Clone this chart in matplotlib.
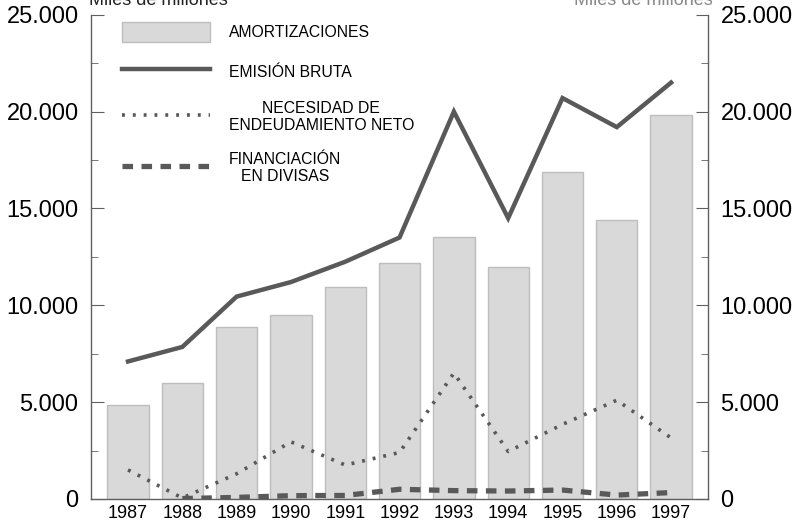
import numpy as np
import matplotlib.pyplot as plt
from matplotlib.patches import Patch
from matplotlib.lines import Line2D

plt.rcParams['font.family'] = ['Liberation Sans', 'DejaVu Sans']

# ============================================================
# Datos (miles de millones)
# ============================================================
years = ["1987", "1988", "1989", "1990", "1991", "1992",
         "1993", "1994", "1995", "1996", "1997"]
amortizaciones = [4850, 6000, 8900, 9500, 10950, 12200,
                  13550, 12000, 16900, 14400, 19800]
emision_bruta = [7100, 7850, 10450, 11200, 12250, 13500,
                 20000, 14500, 20700, 19200, 21500]
necesidad_neto = [1500, 50, 1300, 2950, 1750, 2400,
                  6500, 2450, 3850, 5100, 3150]
divisas_years = years[1:]
financiacion_divisas = [20, 80, 170, 180, 500, 430, 410, 460, 200, 330]

y_ticks = [0, 5000, 10000, 15000, 20000, 25000]
y_tick_labels = ["0", "5.000", "10.000", "15.000", "20.000", "25.000"]

line_color = "#595959"
bar_color = "#d9d9d9"
bar_edge = "#bdbdbd"

fig, ax = plt.subplots(figsize=(7.92, 5.28), dpi=100)
fig.subplots_adjust(left=0.115, right=0.894, top=0.972, bottom=0.055)

x = np.arange(len(years))
xd = np.arange(1, len(years))

# barras + líneas
ax.bar(x, amortizaciones, width=0.76, color=bar_color,
       edgecolor=bar_edge, linewidth=1.0, zorder=1)
ax.plot(x, emision_bruta, color=line_color, lw=3.2,
        solid_joinstyle="miter", zorder=3)
ax.plot(x, necesidad_neto, color=line_color, lw=2.6,
        linestyle=(0, (0.8, 2.2)), zorder=3)
ax.plot(xd, financiacion_divisas, color=line_color, lw=3.8,
        linestyle=(0, (2.0, 1.6)), zorder=3)

ax.set_xlim(-0.68, 10.68)
ax.set_ylim(0, 25000)
ax.set_xticks(x)
ax.set_xticklabels(years, fontsize=13)
ax.tick_params(axis="x", length=0, pad=4)

ax.set_yticks(y_ticks)
ax.set_yticklabels(y_tick_labels, fontsize=17)
ax.set_yticks(np.arange(2500, 25000, 5000), minor=True)
ax.tick_params(axis="y", which="major", direction="in", length=9,
               color="#606060", right=True, labelright=True, pad=9)
ax.tick_params(axis="y", which="minor", direction="in", length=5,
               color="#606060", right=True)

ax.spines["top"].set_visible(False)
for side in ["left", "right", "bottom"]:
    ax.spines[side].set_color("#606060")
    ax.spines[side].set_linewidth(1.0)

# Leyenda
handles = [
    Patch(facecolor=bar_color, edgecolor=bar_edge),
    Line2D([], [], color=line_color, lw=3.2),
    Line2D([], [], color=line_color, lw=2.6, linestyle=(0, (0.8, 2.2))),
    Line2D([], [], color=line_color, lw=3.8, linestyle=(0, (2.0, 1.6))),
]
labels = ["AMORTIZACIONES", "EMISIÓN BRUTA",
          "NECESIDAD DE\nENDEUDAMIENTO NETO", "FINANCIACIÓN\nEN DIVISAS"]
leg = ax.legend(handles, labels, loc="upper left",
                bbox_to_anchor=(0.027, 1.015), frameon=False,
                fontsize=11.3, handlelength=5.6, handleheight=1.65,
                handletextpad=1.2, labelspacing=1.2)
for t in leg.get_texts():
    t.set_multialignment("center")

# Títulos de los ejes (recortados en el borde superior)
fig.text(0.2, 0.991, "Miles de millones", ha="center", va="baseline",
         fontsize=13, color="#222222")
fig.text(0.812, 0.991, "Miles de millones", ha="center", va="baseline",
         fontsize=13, color="#888888")

fig.savefig("out.png", dpi=100)
